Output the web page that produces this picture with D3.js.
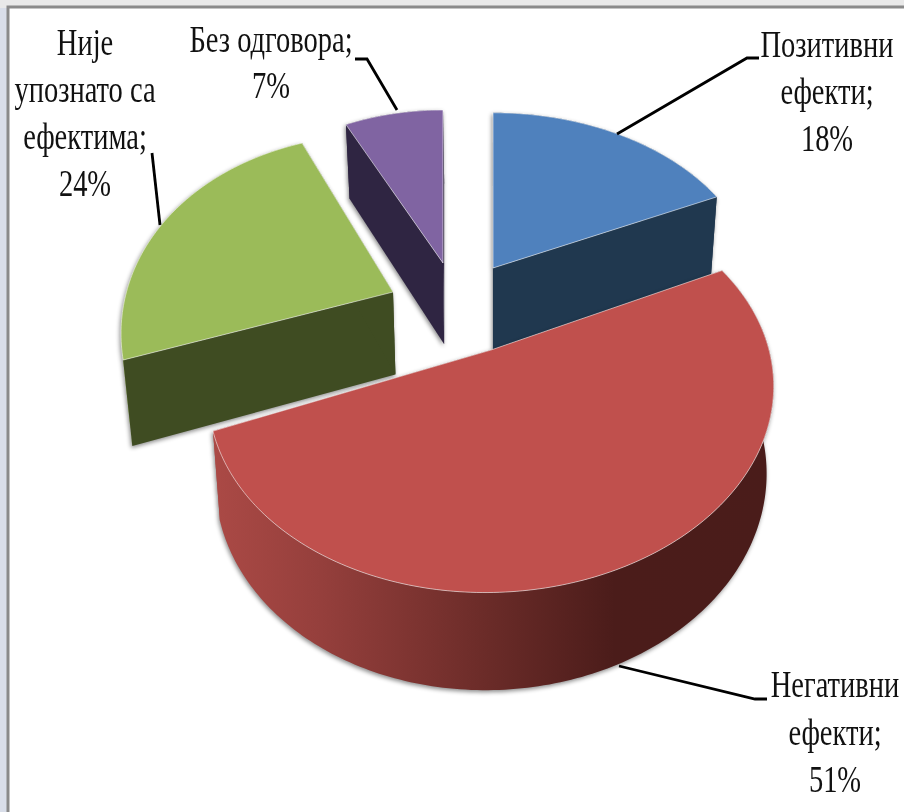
<!DOCTYPE html>
<html>
<head>
<meta charset="utf-8">
<script src="https://d3js.org/d3.v7.min.js"></script>
<style>
  html, body { margin: 0; padding: 0; background: #fff; }
  svg { display: block; }
  .label { font-family: "Liberation Serif", serif; font-size: 37px; fill: #111; filter: blur(0.4px); }
  .leader { fill: none; stroke: #000; stroke-width: 2.8; }
</style>
</head>
<body>
<div id="container"></div>
<script>
/** DATA */
const categories = ["Позитивни ефекти", "Негативни ефекти", "Није упознато са ефектима", "Без одговора"];
const values = [18, 51, 24, 7];
const labelLines = [
  ["Позитивни", "ефекти;", "18%"],
  ["Негативни", "ефекти;", "51%"],
  ["Није", "упознато са", "ефектима;", "24%"],
  ["Без одговора;", "7%"]
];

/** LAYOUT AND STYLE */
const width = 904, height = 812;
const topColors = ["#4f81bd", "#c0504d", "#9bbb59", "#8064a2"];
const cutColors = ["#20384f", "url(#redWall)", "#3f4c22", "#2f2542"];
const wallColors = ["#20384f", "url(#redWall)", "#9bbb59", "#2f2542"];

// each exploded slice has its own fitted perspective: apex, radii, foreshortening, shear
const sliceView = [
  { cx: 493, cy: 268, a: 262, b: 177, p: 0.14, s: 0 },
  { cx: 491, cy: 350, a: 277, b: 194, p: 0.2, s: 4 },
  { cx: 393, cy: 292, a: 263, b: 197, p: 0.255, s: -11.7 },
  { cx: 443, cy: 263, a: 228, b: 153, p: 0, s: 0 }
];

const labelPlace = [
  { x: 827, y: 57, leader: [[617, 134], [747, 58], [759, 58]] },
  { x: 835, y: 697, leader: [[619, 666], [755, 699], [767, 699]] },
  { x: 85, y: 55, leader: [[152, 153], [160, 225]] },
  { x: 271, y: 52, leader: [[355, 59], [367, 59], [397, 110]] }
];
const lineGap = [47, 47.5, 47, 46];
const labelSqueeze = 0.77;

const svg = d3.select("#container").append("svg")
  .attr("width", width)
  .attr("height", height);

// window frame round the pasted chart
svg.append("rect").attr("width", width).attr("height", height).attr("fill", "#d9dee9");
svg.append("rect").attr("width", width).attr("height", 8).attr("fill", "#e9e9e9");
svg.append("rect").attr("x", 8).attr("y", 7).attr("width", width).attr("height", height)
  .attr("fill", "#fff").attr("stroke", "#8a8a8a").attr("stroke-width", 3);

const defs = svg.append("defs");
const grad = defs.append("linearGradient")
  .attr("id", "redWall")
  .attr("gradientUnits", "userSpaceOnUse")
  .attr("x1", 208).attr("x2", 773).attr("y1", 0).attr("y2", 0);
[[0, "#ac4a46"], [0.2, "#953f3c"], [0.5, "#6a2b28"], [0.72, "#4b1c1a"], [1, "#4a1c1a"]]
  .forEach(d => grad.append("stop").attr("offset", d[0]).attr("stop-color", d[1]));

const pie = d3.pie().sort(null).value(d => d)(values);
const line = d3.line();

function rim(view, angle) {
  const X = Math.sin(angle), Y = Math.cos(angle), w = 1 + view.p * Y;
  return [view.cx + view.a * X / w, view.cy - (view.b * Y + view.s * X) / w];
}

// the underside is pulled in a little and sits lower towards the viewer
function drop(pt) {
  const depth = 73 + 0.05 * (pt[1] - 100);
  return [490 + (pt[0] - 490) * 0.975, pt[1] + depth];
}

const order = [3, 0, 2, 1];
order.forEach(i => {
  const view = sliceView[i], d = pie[i];
  const n = Math.max(8, Math.round((d.endAngle - d.startAngle) * 60));
  const arcPts = d3.range(n + 1).map(k => rim(view, d.startAngle + (d.endAngle - d.startAngle) * k / n));
  const apex = [view.cx, view.cy];
  const g = svg.append("g").attr("class", "slice")
    .style("filter", "drop-shadow(-1px 2px 2px rgba(0,0,0,0.45))");

  g.append("path")
    .attr("d", line(arcPts.concat(arcPts.map(drop).reverse())) + "Z")
    .attr("fill", wallColors[i]);

  [arcPts[0], arcPts[n]].forEach(p => {
    g.append("path")
      .attr("d", line([apex, p, drop(p), drop(apex)]) + "Z")
      .attr("fill", cutColors[i]);
  });

  g.append("path")
    .attr("d", line([apex].concat(arcPts)) + "Z")
    .attr("fill", topColors[i])
    .attr("stroke", "#fff")
    .attr("stroke-opacity", 0.55)
    .attr("stroke-width", 1);
});

labelLines.forEach((lines, i) => {
  const place = labelPlace[i];
  svg.append("path").attr("class", "leader").attr("d", line(place.leader));
  lines.forEach((txt, j) => {
    svg.append("text")
      .attr("class", "label")
      .attr("text-anchor", "middle")
      .attr("transform", `translate(${place.x},${place.y + j * lineGap[i]}) scale(${labelSqueeze},1)`)
      .text(txt);
  });
});
</script>
</body>
</html>
